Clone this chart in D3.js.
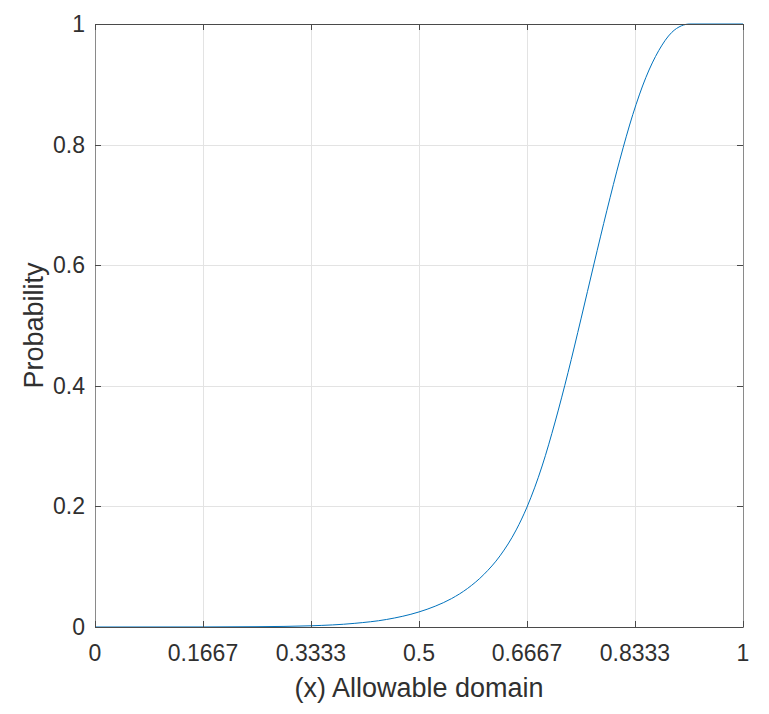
<!DOCTYPE html>
<html><head><meta charset="utf-8">
<script src="https://cdn.jsdelivr.net/npm/d3@7"></script>
<style>body{margin:0;background:#fff}svg{display:block}</style>
</head><body><svg id="c" width="769" height="714"></svg>
<script>
const xTicks = [0, 0.1667, 0.3333, 0.5, 0.6667, 0.8333, 1];
const xTickLabels = ["0", "0.1667", "0.3333", "0.5", "0.6667", "0.8333", "1"];
const yTicks = [0, 0.2, 0.4, 0.6, 0.8, 1];
const yTickLabels = ["0", "0.2", "0.4", "0.6", "0.8", "1"];
const xValues = [0, 0.1667, 0.25, 0.3333, 0.40, 0.45, 0.5, 0.525, 0.55, 0.575, 0.6, 0.625, 0.65, 0.6667, 0.69, 0.71, 0.73, 0.75, 0.77, 0.79, 0.81, 0.83, 0.85, 0.87, 0.89, 0.905, 0.918, 1];
const yValues = [0, 0.0001, 0.0005, 0.002, 0.006, 0.0125, 0.025, 0.0345, 0.047, 0.064, 0.087, 0.118, 0.161, 0.199, 0.267, 0.340, 0.422, 0.511, 0.602, 0.691, 0.775, 0.850, 0.911, 0.956, 0.986, 0.997, 1, 1];
const xLabel = "(x) Allowable domain";
const yLabel = "Probability";

const svg = d3.select("#c");
const L = 95, R = 743, T = 24, B = 627;
const x = d3.scaleLinear().domain([0, 1]).range([L, R]);
const y = d3.scaleLinear().domain([0, 1]).range([B, T]);
const font = "'Liberation Sans', Arial, Helvetica, sans-serif";
const txt = "#303030";

// grid
svg.append("g").selectAll("line").data(xTicks.slice(1, -1)).join("line")
  .attr("x1", d => Math.round(x(d)) + 0.5).attr("x2", d => Math.round(x(d)) + 0.5)
  .attr("y1", T).attr("y2", B).attr("stroke", "#e3e3e3").attr("stroke-width", 1);
svg.append("g").selectAll("line").data(yTicks.slice(1, -1)).join("line")
  .attr("y1", d => Math.round(y(d)) + 0.5).attr("y2", d => Math.round(y(d)) + 0.5)
  .attr("x1", L).attr("x2", R).attr("stroke", "#e3e3e3").attr("stroke-width", 1);

// curve
const pts = xValues.map((v, i) => [v, yValues[i]]);
svg.append("path").datum(pts)
  .attr("d", d3.line().x(d => x(d[0])).y(d => y(d[1])).curve(d3.curveMonotoneX))
  .attr("fill", "none").attr("stroke", "#0072BD").attr("stroke-width", 1);

// box
const ax = "#4a4a4a";
svg.append("line").attr("x1", L).attr("x2", R).attr("y1", B + 0.5).attr("y2", B + 0.5).attr("stroke", ax);
svg.append("line").attr("x1", L).attr("x2", R).attr("y1", T + 0.5).attr("y2", T + 0.5).attr("stroke", ax);
svg.append("line").attr("x1", L + 0.5).attr("x2", L + 0.5).attr("y1", T).attr("y2", B + 1).attr("stroke", "#8a8a8a");
svg.append("line").attr("x1", R + 0.5).attr("x2", R + 0.5).attr("y1", T).attr("y2", B + 1).attr("stroke", "#8a8a8a");

// ticks (inward, all four sides)
const tl = 6;
xTicks.forEach(d => {
  const px = Math.round(x(d)) + 0.5;
  svg.append("line").attr("x1", px).attr("x2", px).attr("y1", B).attr("y2", B - tl).attr("stroke", ax);
  svg.append("line").attr("x1", px).attr("x2", px).attr("y1", T).attr("y2", T + tl).attr("stroke", ax);
});
yTicks.forEach(d => {
  const py = Math.round(y(d)) + 0.5;
  svg.append("line").attr("y1", py).attr("y2", py).attr("x1", L).attr("x2", L + tl).attr("stroke", ax);
  svg.append("line").attr("y1", py).attr("y2", py).attr("x1", R).attr("x2", R - tl).attr("stroke", ax);
});

// tick labels
svg.append("g").selectAll("text").data(xTicks).join("text")
  .attr("x", d => x(d)).attr("y", 661).attr("text-anchor", "middle")
  .attr("font-family", font).attr("font-size", 23).attr("fill", txt)
  .text((d, i) => xTickLabels[i]);
svg.append("g").selectAll("text").data(yTicks).join("text")
  .attr("x", 85).attr("y", d => y(d) + 8).attr("text-anchor", "end")
  .attr("font-family", font).attr("font-size", 23).attr("fill", txt)
  .text((d, i) => yTickLabels[i]);

// axis labels
svg.append("text").attr("x", (L + R) / 2).attr("y", 697).attr("text-anchor", "middle")
  .attr("font-family", font).attr("font-size", 27).attr("fill", txt).text(xLabel);
svg.append("text").attr("transform", `translate(43,${(T + B) / 2}) rotate(-90)`)
  .attr("text-anchor", "middle")
  .attr("font-family", font).attr("font-size", 27).attr("fill", txt).text(yLabel);
</script></body></html>
